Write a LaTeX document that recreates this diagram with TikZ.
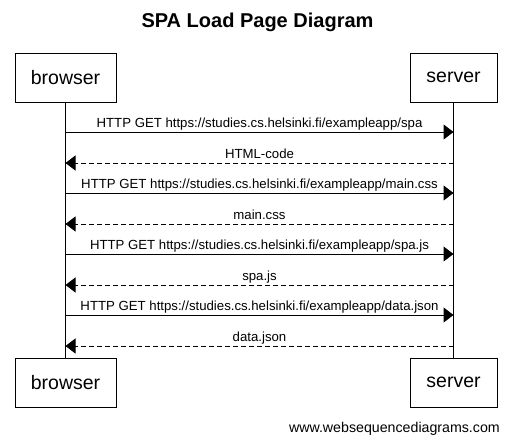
\documentclass[tikz,border=0pt]{standalone}
\usepackage{fontspec}
\setmainfont{Liberation Sans}
\usetikzlibrary{arrows.meta}
\begin{document}
\begin{tikzpicture}[x=1pt,y=-1pt,
  actor/.style={draw=black,line width=1pt,fill=white,minimum width=101pt,minimum height=49pt,inner sep=0pt,font=\fontsize{19.5}{22}\selectfont},
  actorS/.style={actor,minimum width=87pt},
  msg/.style={line width=1pt,-{Triangle[length=10pt,width=15pt]}},
  reply/.style={msg,dash pattern=on 5pt off 3pt},
  lbl/.style={font=\fontsize{13.2}{15}\selectfont,inner sep=0pt,anchor=base,yshift=4.5pt},
  life/.style={line width=1pt}]
\useasboundingbox (0,0) rectangle (511,442);
\node[font=\bfseries\fontsize{20}{23}\selectfont] (title) at (257.5,22.5) {SPA Load Page Diagram};
\node[actor] (bt) at (65.5,77.5) {browser};
\node[actorS] (st) at (453.5,77.5) {server};
\node[actor] (bb) at (65.5,382.5) {browser};
\node[actorS] (sb) at (453.5,382.5) {server};
\draw[life] (bt.south) -- (bb.north);
\draw[life] (st.south) -- (sb.north);
\foreach \y/\dir/\txt [count=\i] in {
  132/r/{HTTP GET https://studies.cs.helsinki.fi/exampleapp/spa},
  163/l/{HTML-code},
  193/r/{HTTP GET https://studies.cs.helsinki.fi/exampleapp/main.css},
  224/l/{main.css},
  254/r/{HTTP GET https://studies.cs.helsinki.fi/exampleapp/spa.js},
  285/l/{spa.js},
  315/r/{HTTP GET https://studies.cs.helsinki.fi/exampleapp/data.json},
  346/l/{data.json}} {
  \coordinate (b\i) at (bt.south |- 0,\y);
  \coordinate (s\i) at (st.south |- 0,\y);
  \if r\dir
    \draw[msg] (b\i) -- (s\i) node[lbl,midway] {\txt};
  \else
    \draw[reply] (s\i) -- (b\i) node[lbl,midway] {\txt};
  \fi
}
\node[anchor=base east,font=\fontsize{14.2}{16}\selectfont,inner sep=0pt] (foot) at (500,432) {www.websequencediagrams.com};
\end{tikzpicture}
\end{document}
